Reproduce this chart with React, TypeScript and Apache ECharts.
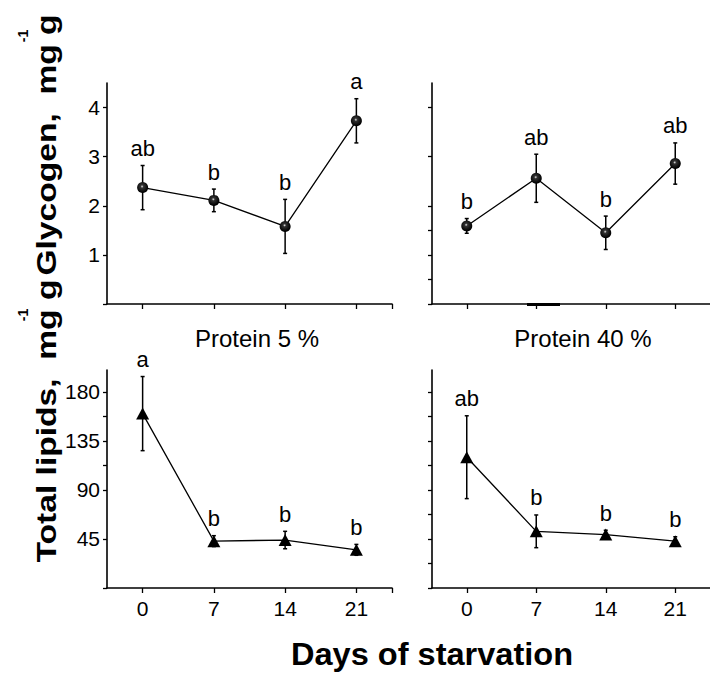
import React, { useEffect, useRef } from "react";
import * as echarts from "echarts";

// Days of starvation
const days = [0, 7, 14, 21];

// Glycogen (mg g-1), mean and error, per diet
const glycogenP5 = [2.37, 2.11, 1.58, 3.73];
const glycogenP5Err = [0.45, 0.23, 0.55, 0.45];
const glycogenP5Groups = ["ab", "b", "b", "a"];

const glycogenP40 = [1.59, 2.56, 1.45, 2.86];
const glycogenP40Err = [0.15, 0.49, 0.34, 0.42];
const glycogenP40Groups = ["b", "ab", "b", "ab"];

// Total lipids (mg g-1), mean and error, per diet
const lipidsP5 = [160, 43, 44, 35];
const lipidsP5Err = [34, 5, 8, 5];
const lipidsP5Groups = ["a", "b", "b", "b"];

const lipidsP40 = [120, 52, 49, 43];
const lipidsP40Err = [38, 15, 4, 4];
const lipidsP40Groups = ["ab", "b", "b", "b"];

// Tick labels
const dayTicks = [0, 7, 14, 21];
const glycogenTicks = [1, 2, 3, 4];
const lipidTicks = [45, 90, 135, 180];

const FONT = "'Liberation Sans', Arial, Helvetica, sans-serif";
const BLACK = "#000";

export default function App() {
  const ref = useRef<HTMLDivElement>(null);

  useEffect(() => {
    if (!ref.current) return;
    const chart = echarts.init(ref.current, null, { renderer: "svg" });

    const grids = [
      { left: 107, top: 83, width: 285, height: 221 },
      { left: 432, top: 83, width: 285, height: 221 },
      { left: 107, top: 370, width: 285, height: 218 },
      { left: 432, top: 370, width: 285, height: 218 },
    ];

    const axisLine = { show: true, onZero: false, lineStyle: { color: BLACK, width: 1.6 } };

    const xAxes = grids.map((_, i) => ({
      type: "value",
      gridIndex: i,
      min: -3.5,
      max: 24.5,
      axisLine,
      axisTick: {
        show: true,
        length: 5,
        customValues: i % 2 === 0 ? [0, 7, 14, 21, 24.5] : [0, 7, 14, 21],
        lineStyle: { color: BLACK, width: 1.3 },
      },
      axisLabel: {
        show: i >= 2,
        customValues: dayTicks,
        fontSize: 21,
        fontFamily: FONT,
        color: BLACK,
        margin: 10,
      },
      splitLine: { show: false },
    }));

    const yAxes = grids.map((_, i) => {
      const top = i < 2;
      const left = i % 2 === 0;
      let tickValues: number[];
      if (top) tickValues = left ? [0, 1, 2, 3, 4] : [0, 0.5, 1, 1.5, 2, 3, 4];
      else
        tickValues = left
          ? [0, 45, 90, 112.5, 135, 157.5, 180]
          : [0, 22.5, 45, 67.5, 90, 112.5, 135, 157.5, 180];
      return {
        type: "value",
        gridIndex: i,
        min: 0,
        max: top ? 4.5 : 200,
        axisLine,
        axisTick: {
          show: true,
          length: 4,
          customValues: tickValues,
          lineStyle: { color: BLACK, width: 1.3 },
        },
        axisLabel: {
          show: left,
          customValues: top ? glycogenTicks : lipidTicks,
          fontSize: 21,
          fontFamily: FONT,
          color: BLACK,
          margin: 7,
        },
        splitLine: { show: false },
      };
    });

    const panels = [
      { mean: glycogenP5, err: glycogenP5Err, groups: glycogenP5Groups, marker: "circle" },
      { mean: glycogenP40, err: glycogenP40Err, groups: glycogenP40Groups, marker: "circle" },
      { mean: lipidsP5, err: lipidsP5Err, groups: lipidsP5Groups, marker: "triangle" },
      { mean: lipidsP40, err: lipidsP40Err, groups: lipidsP40Groups, marker: "triangle" },
    ];

    const sphere = new echarts.graphic.RadialGradient(0.45, 0.4, 0.55, [
      { offset: 0, color: "#e8e8e8" },
      { offset: 0.25, color: "#333" },
      { offset: 1, color: "#000" },
    ]);

    const series: any[] = [];
    panels.forEach((p, i) => {
      // error bars with the letter of each mean's group above them
      series.push({
        type: "custom",
        xAxisIndex: i,
        yAxisIndex: i,
        z: 1,
        clip: false,
        encode: { x: 0, y: 1 },
        data: days.map((d, k) => [d, p.mean[k], p.err[k]]),
        renderItem: (params: any, api: any) => {
          const x = api.value(0);
          const m = api.value(1);
          const e = api.value(2);
          const hi = api.coord([x, m + e]);
          const lo = api.coord([x, m - e]);
          const cap = 2;
          const stroke = { stroke: BLACK, lineWidth: 1.5 };
          return {
            type: "group",
            children: [
              { type: "line", shape: { x1: hi[0], y1: hi[1], x2: lo[0], y2: lo[1] }, style: stroke },
              { type: "line", shape: { x1: hi[0] - cap, y1: hi[1], x2: hi[0] + cap, y2: hi[1] }, style: stroke },
              { type: "line", shape: { x1: lo[0] - cap, y1: lo[1], x2: lo[0] + cap, y2: lo[1] }, style: stroke },
              {
                type: "text",
                x: hi[0],
                y: hi[1] - 6,
                style: {
                  text: p.groups[params.dataIndex],
                  align: "center",
                  verticalAlign: "bottom",
                  fontSize: 22,
                  fontFamily: FONT,
                  fill: BLACK,
                },
              },
            ],
          };
        },
      });
      series.push({
        type: "line",
        xAxisIndex: i,
        yAxisIndex: i,
        z: 3,
        data: days.map((d, k) => [d, p.mean[k]]),
        symbol: p.marker,
        symbolSize: p.marker === "circle" ? 11 : [13, 12],
        itemStyle: { color: p.marker === "circle" ? sphere : BLACK, borderWidth: 0 },
        lineStyle: { color: BLACK, width: 1.3 },
      });
    });

    const titleStyle = { fontSize: 24, fontFamily: FONT, fill: BLACK, align: "center", verticalAlign: "middle" };
    const axisTitleStyle = {
      fontSize: 28,
      fontWeight: "bold",
      fontFamily: FONT,
      fill: BLACK,
      align: "center",
      verticalAlign: "middle",
    };
    const supStyle = { fontSize: 14, fontWeight: "bold", fontFamily: FONT, fill: BLACK, align: "center", verticalAlign: "middle" };

    chart.setOption({
      animation: false,
      backgroundColor: "#fff",
      grid: grids,
      xAxis: xAxes,
      yAxis: yAxes,
      series,
      graphic: [
        { type: "text", x: 257, y: 338, style: { text: "Protein 5 %", ...titleStyle } },
        { type: "text", x: 583, y: 338, style: { text: "Protein 40 %", ...titleStyle } },
        {
          type: "text",
          x: 432,
          y: 654,
          scaleX: 1.05,
          style: { text: "Days of starvation", ...axisTitleStyle, fontSize: 31 },
        },
        {
          type: "text",
          x: 46,
          y: 145,
          rotation: Math.PI / 2,
          scaleX: 1.2,
          style: { text: "Glycogen,  mg g", ...axisTitleStyle },
        },
        { type: "text", x: 23, y: 36, rotation: Math.PI / 2, style: { text: "-1", ...supStyle } },
        {
          type: "text",
          x: 46,
          y: 421,
          rotation: Math.PI / 2,
          scaleX: 1.2,
          style: { text: "Total lipids,  mg g", ...axisTitleStyle },
        },
        { type: "text", x: 23, y: 315, rotation: Math.PI / 2, style: { text: "-1", ...supStyle } },
        // heavier stroke on the lower axis of the Protein 40 % glycogen panel
        { type: "rect", shape: { x: 527, y: 303, width: 33, height: 3 }, style: { fill: BLACK } },
      ],
    });

    return () => chart.dispose();
  }, []);

  return (
    <div
      ref={ref}
      style={{ position: "fixed", left: 0, top: 0, width: 710, height: 676, background: "#fff" }}
    />
  );
}
